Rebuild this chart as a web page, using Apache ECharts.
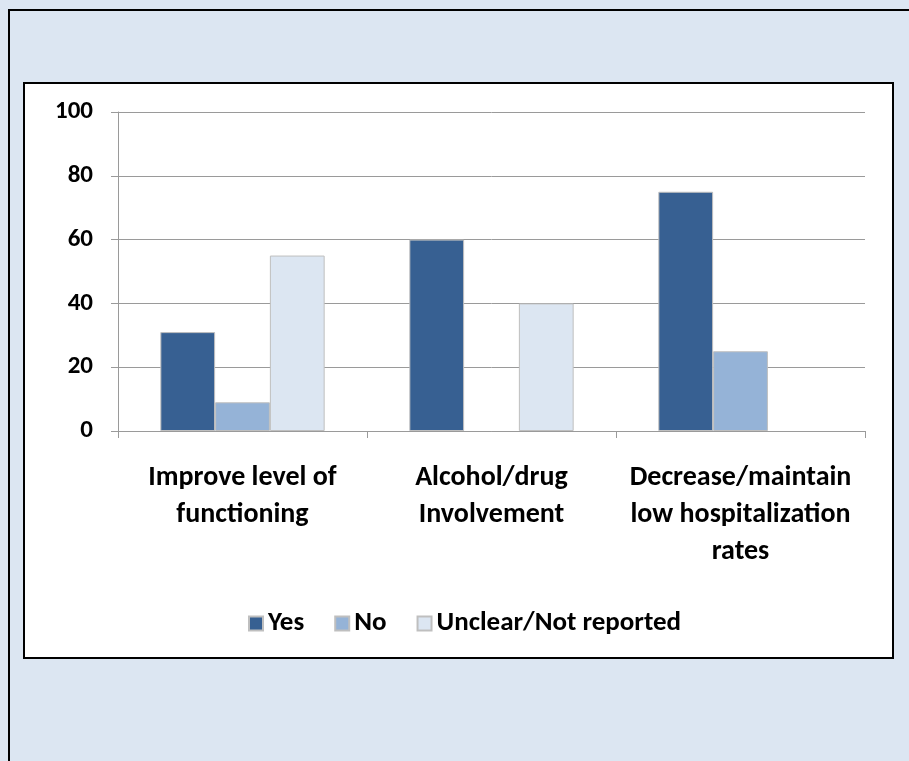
<!DOCTYPE html>
<html>
<head>
<meta charset="utf-8">
<style>
  html, body { margin: 0; padding: 0; background: #dce6f2; }
  #chart { width: 909px; height: 761px; }
</style>
<script src="https://cdn.jsdelivr.net/npm/echarts@6/dist/echarts.min.js"></script>
</head>
<body>
<div id="chart"></div>
<script>
// Outcome categories and percentages per response type
const categories = [
  'Improve level of\nfunctioning',
  'Alcohol/drug\nInvolvement',
  'Decrease/maintain\nlow hospitalization\nrates'
];
const yesValues = [31, 60, 75];
const noValues = [9, 0, 25];
const unclearValues = [55, 40, 0];
const seriesNames = ['Yes', 'No', 'Unclear/Not reported'];
const seriesColors = ['#376092', '#95b3d7', '#dce6f2'];
const yTicks = [0, 20, 40, 60, 80, 100];

const chart = echarts.init(document.getElementById('chart'));
const font = 'Carlito, "Open Sans", "Noto Sans", sans-serif';

function barSeries(name, data, color) {
  return {
    name: name,
    type: 'bar',
    // empty bars get no outline so nothing shows at the baseline
    data: data.map(v => v === 0 ? { value: v, itemStyle: { borderWidth: 0 } } : v),
    barGap: '0%',
    barCategoryGap: '34%',
    itemStyle: { color: color, borderColor: '#bfbfbf', borderWidth: 1 }
  };
}

chart.setOption({
  backgroundColor: 'transparent',
  animation: false,
  graphic: [
    {
      type: 'rect', z: -10, silent: true,
      shape: { x: 9, y: 10, width: 920, height: 780 },
      style: { fill: '#dce6f2', stroke: '#000', lineWidth: 2 }
    },
    {
      type: 'rect', z: -9, silent: true,
      shape: { x: 24, y: 83, width: 869, height: 575 },
      style: { fill: '#ffffff', stroke: '#000', lineWidth: 2 }
    }
  ],
  grid: { left: 118, right: 44, top: 112, bottom: 330, containLabel: false },
  legend: {
    data: seriesNames,
    top: 605,
    left: 243,
    itemWidth: 14,
    itemHeight: 14,
    itemGap: 30,
    icon: 'rect',
    textStyle: { fontFamily: font, fontSize: 27, color: '#000', fontWeight: 'bold' }
  },
  xAxis: {
    type: 'category',
    data: categories,
    axisLine: { lineStyle: { color: '#9a9a9a', width: 1 } },
    axisTick: { show: true, length: 7, lineStyle: { color: '#9a9a9a' } },
    axisLabel: {
      interval: 0,
      margin: 28,
      fontFamily: font,
      fontSize: 28,
      lineHeight: 37,
      fontWeight: 'bold',
      color: '#000'
    }
  },
  yAxis: {
    type: 'value',
    min: yTicks[0],
    max: yTicks[yTicks.length - 1],
    interval: 20,
    axisLine: { show: true, lineStyle: { color: '#9a9a9a' } },
    axisTick: { show: true, length: 7, lineStyle: { color: '#9a9a9a' } },
    splitLine: { lineStyle: { color: '#9a9a9a', width: 1 } },
    axisLabel: {
      margin: 25,
      fontFamily: font,
      fontSize: 25,
      fontWeight: 'bold',
      color: '#000'
    }
  },
  series: [
    barSeries(seriesNames[0], yesValues, seriesColors[0]),
    barSeries(seriesNames[1], noValues, seriesColors[1]),
    barSeries(seriesNames[2], unclearValues, seriesColors[2])
  ]
});
</script>
</body>
</html>
